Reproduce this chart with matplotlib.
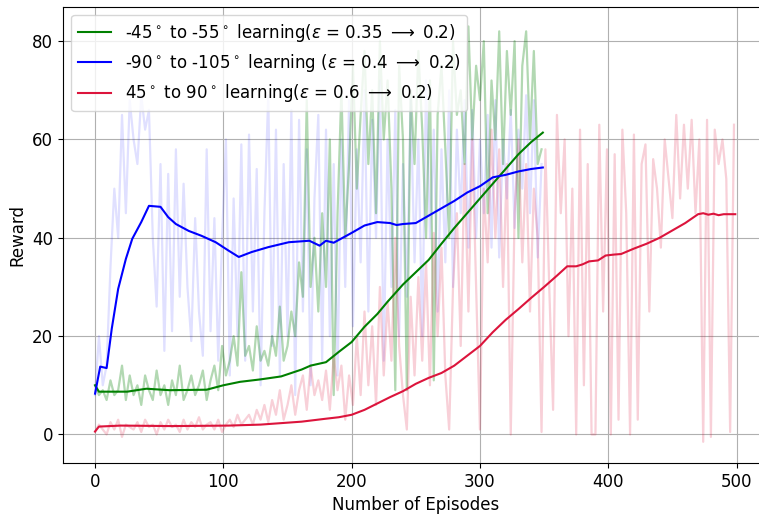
import matplotlib
matplotlib.use("Agg")
import matplotlib.pyplot as plt
import numpy as np

# raw episode rewards, one value every 3 episodes
green_raw = [10, 8, 9, 7, 11, 8, 9, 14, 7, 12,
             8, 10, 6, 12, 9, 7, 13, 8, 10, 6,
             11, 8, 14, 7, 9, 12, 8, 10, 13, 7,
             11, 14, 9, 18, 12, 15, 20, 14, 33, 16,
             18, 13, 22, 15, 17, 14, 20, 16, 26, 15,
             18, 25, 20, 35, 28, 68, 30, 40, 25, 45,
             30, 60, 8, 45, 70, 40, 55, 75, 50, 65,
             78, 55, 70, 45, 80, 60, 72, 50, 9, 75,
             60, 9, 70, 55, 78, 62, 40, 72, 11, 65,
             75, 58, 40, 80, 65, 70, 55, 83, 60, 75,
             68, 80, 45, 72, 60, 82, 55, 78, 65, 80,
             40, 75, 82, 60, 78, 55, 58]

blue_raw = [8, 20, 10, 14, 34, 50, 40, 65, 45, 68,
            60, 55, 69, 62, 66, 40, 26, 55, 17, 53,
            21, 58, 28, 51, 30, 19, 44, 25, 16, 58,
            21, 44, 15, 40, 60, 12, 48, 20, 59, 15,
            61, 25, 54, 10, 45, 69, 18, 62, 12, 55,
            20, 66, 8, 64, 25, 58, 10, 48, 65, 15,
            62, 20, 55, 12, 60, 30, 68, 22, 58, 35,
            70, 25, 64, 40, 72, 15, 60, 30, 66, 20,
            55, 28, 68, 35, 60, 20, 72, 40, 62, 25,
            58, 35, 70, 30, 62, 45, 68, 38, 66, 40,
            60, 45, 65, 38, 68, 36, 60, 48, 66, 42,
            62, 50, 69, 45, 68, 36, 55]

red_raw = [0.5, 2, 1, 0, 2.5, 1, 3, -0.5, 2, 1.5,
           1, 2.5, 0.5, 3, 1.5, 2, 0, 2.5, 1, 3,
           1.5, 2, 0.5, 3, 1, 2.5, 1.5, 3.5, 1, 2,
           2.5, 1, 3, 0.5, 2, 3, 1.5, 4, 2, 3,
           4, 2, 5, 3, 6, 2.5, 7, 4, 9, 3,
           6, 10, 4, 9, 12, 5, 14, 8, 11, 7,
           13, 5, 16, 9, 14, 3, 12, 6, 20, 8,
           25, 10, 22, 6, 30, 12, 27, 15, 40, 18,
           8, 1, 28, 12, 32, 15, 35, 10, 41, 20,
           38, 12, 1, 30, 45, 18, 55, 25, 60, 30,
           1, 50, 35, 62, 40, 58, 30, 55, 0, 45,
           60, 35, 55, 25, 50, 40, 0.5, 58, 30, 5,
           65, 45, 60, 20, 50, 0, 62, 10, 55, 0,
           0, 63, 25, 58, 0, 57, 3, 62, 45, 0,
           61, 3, 55, 59, 25, 56, 50, 38, 60, 52,
           44, 65, 48, 63, 50, 64, 45, 60, -1.5, 64,
           -0.5, 62, 55, 60, 52, 0.5, 63]

# smoothed curves
green_ep = [0, 3, 12, 25, 40, 58, 87, 100, 113, 129, 145, 161, 168, 180, 190,
            200, 210, 220, 228, 240, 250, 260, 270, 280, 290, 300, 310, 320,
            330, 340, 349]
green_avg = [10, 8.7, 8.7, 8.7, 9.3, 9.0, 9.1, 10.0, 10.7, 11.2, 11.8, 13.2,
             14.0, 14.7, 16.8, 18.8, 21.9, 24.5, 27.0, 30.5, 33.0, 35.5, 38.8,
             42.0, 45.0, 48.0, 51.0, 54.0, 57.0, 59.5, 61.4]

blue_ep = [0, 4, 9, 13, 18, 24, 29, 36, 42, 51, 57, 63, 73, 83, 94, 104, 112,
           122, 135, 151, 167, 175, 180, 186, 193, 200, 210, 220, 230, 235,
           240, 250, 260, 270, 280, 290, 300, 310, 320, 330, 340, 349]
blue_avg = [8.3, 13.8, 13.5, 21.5, 29.6, 35.7, 39.8, 43.2, 46.5, 46.3, 44.2,
            42.8, 41.4, 40.4, 39.1, 37.4, 36.1, 37.1, 38.1, 39.1, 39.4, 38.4,
            39.4, 39.0, 40.0, 41.0, 42.5, 43.2, 43.0, 42.6, 42.8, 43.0, 44.5,
            46.0, 47.5, 49.2, 50.5, 52.3, 52.8, 53.5, 54.0, 54.3]

red_ep = [0, 3, 20, 60, 104, 129, 161, 180, 190, 200, 210, 220, 230, 240, 250,
          260, 270, 280, 290, 300, 310, 320, 330, 340, 350, 360, 368, 375, 380,
          385, 392, 398, 405, 410, 420, 430, 440, 450, 460, 470, 474, 478, 482,
          486, 490, 499]
red_avg = [0.6, 1.6, 1.8, 1.7, 1.8, 2.0, 2.6, 3.2, 3.5, 4.0, 5.0, 6.3, 7.6, 8.8,
           10.3, 11.5, 12.5, 14.0, 16.0, 18.0, 20.8, 23.3, 25.5, 27.8, 30.0,
           32.3, 34.2, 34.2, 34.6, 35.2, 35.4, 36.4, 36.6, 36.7, 37.8, 38.8,
           40.0, 41.5, 43.0, 44.8, 45.0, 44.7, 44.9, 44.6, 44.8, 44.8]

labels = [r"-45$^\circ$ to -55$^\circ$ learning($\varepsilon$ = 0.35 $\longrightarrow$ 0.2)",
          r"-90$^\circ$ to -105$^\circ$ learning ($\varepsilon$ = 0.4 $\longrightarrow$ 0.2)",
          r"45$^\circ$ to 90$^\circ$ learning($\varepsilon$ = 0.6 $\longrightarrow$ 0.2)"]

plt.rcParams["font.size"] = 12

fig = plt.figure(figsize=(7.59, 5.19), dpi=100)
ax = fig.add_axes([0.083, 0.108, 0.928, 0.879])

ax.plot(np.arange(len(blue_raw)) * 3, blue_raw, color="blue", alpha=0.12, lw=1.6)
ax.plot(np.arange(len(green_raw)) * 3, green_raw, color="green", alpha=0.3, lw=1.6)
ax.plot(np.arange(len(red_raw)) * 3, red_raw, color="crimson", alpha=0.2, lw=1.6)

ax.plot(green_ep, green_avg, color="green", lw=1.5, label=labels[0])
ax.plot(blue_ep, blue_avg, color="blue", lw=1.5, label=labels[1])
ax.plot(red_ep, red_avg, color="crimson", lw=1.5, label=labels[2])

ax.set_xlim(-25, 524)
ax.set_ylim(-5.8, 87)
ax.grid(True)
ax.set_xlabel("Number of Episodes")
ax.set_ylabel("Reward")
ax.legend(loc="upper left")

fig.savefig("out.png", dpi=100)
